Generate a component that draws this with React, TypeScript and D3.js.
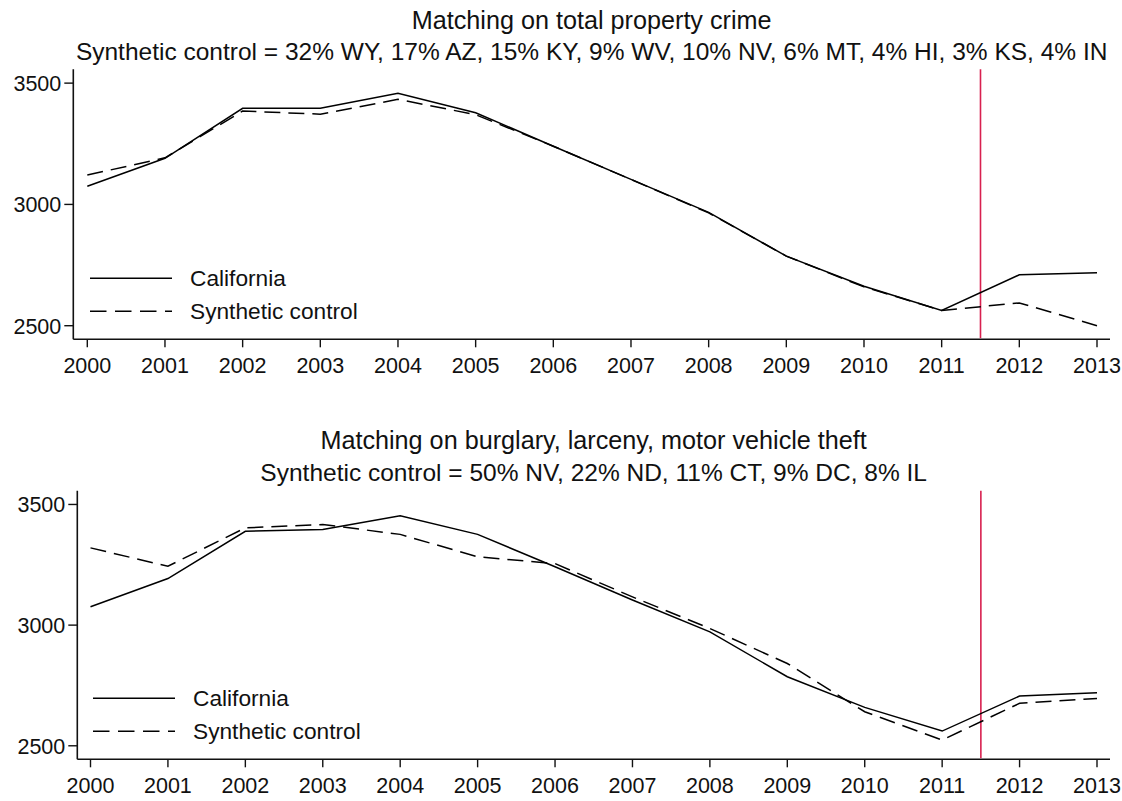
import React from "react";
import * as d3 from "d3";

// data
const years = [2000, 2001, 2002, 2003, 2004, 2005, 2006, 2007, 2008, 2009, 2010, 2011, 2012, 2013];
const yTicks = [2500, 3000, 3500];

const caTop = [3075, 3190, 3396, 3396, 3458, 3378, 3240, 3103, 2967, 2787, 2663, 2563, 2710, 2718];
const synthTop = [3121, 3192, 3385, 3372, 3433, 3370, 3240, 3103, 2965, 2787, 2660, 2563, 2594, 2500];

const caBottom = [3076, 3193, 3389, 3396, 3453, 3376, 3242, 3104, 2972, 2786, 2659, 2561, 2706, 2720];
const synthBottom = [3320, 3244, 3403, 3417, 3376, 3283, 3255, 3117, 2986, 2841, 2641, 2524, 2676, 2696];

const treatYear = 2011.5;

const FONT = "'Liberation Sans', Arial, Helvetica, sans-serif";

type PanelProps = {
  title: string;
  subtitle: string;
  ca: number[];
  synth: number[];
  top: number; // y of plot top
  bottom: number; // y of x axis
  left: number; // x of y axis
  x0: number; // pixel of first year
  x1: number; // pixel of last year
  right: number;
  titleY: number;
  subY: number;
  legendY: number;
  legendX: number;
};

function Panel(p: PanelProps) {
  const x = d3.scaleLinear().domain([2000, 2013]).range([p.x0, p.x1]);
  // 2500 sits ~13.6px above the axis line, 3500 ~14px below the top
  const y = d3
    .scaleLinear()
    .domain([2444, 3557])
    .range([p.bottom, p.top]);

  const line = d3
    .line<number>()
    .x((_, i) => x(years[i]))
    .y((d) => y(d));

  const cx = (p.left + p.right) / 2;

  return (
    <g>
      <text x={cx} y={p.titleY} textAnchor="middle" fontSize={25.2} fill="#111">
        {p.title}
      </text>
      <text x={cx} y={p.subY} textAnchor="middle" fontSize={24.5} fill="#111">
        {p.subtitle}
      </text>

      {/* axes */}
      <line x1={p.left} x2={p.left} y1={p.top} y2={p.bottom} stroke="#111" strokeWidth={1.6} />
      <line x1={p.left} x2={p.right} y1={p.bottom} y2={p.bottom} stroke="#111" strokeWidth={1.6} />

      {yTicks.map((t) => (
        <g key={t}>
          <line x1={p.left - 9} x2={p.left} y1={y(t)} y2={y(t)} stroke="#111" strokeWidth={1.4} />
          <text x={p.left - 12} y={y(t) + 8} textAnchor="end" fontSize={21.5} fill="#111">
            {t}
          </text>
        </g>
      ))}

      {years.map((yr) => (
        <g key={yr}>
          <line x1={x(yr)} x2={x(yr)} y1={p.bottom} y2={p.bottom + 8} stroke="#111" strokeWidth={1.4} />
          <text x={x(yr)} y={p.bottom + 34} textAnchor="middle" fontSize={21.5} fill="#111">
            {yr}
          </text>
        </g>
      ))}

      <line
        x1={x(treatYear)}
        x2={x(treatYear)}
        y1={p.top}
        y2={p.bottom - 1}
        stroke="#d8204f"
        strokeWidth={1.6}
      />

      <path d={line(p.ca) || ""} fill="none" stroke="#000" strokeWidth={1.5} />
      <path d={line(p.synth) || ""} fill="none" stroke="#000" strokeWidth={1.5} strokeDasharray="16,8" />

      {/* legend */}
      <line x1={p.legendX} x2={p.legendX + 82} y1={p.legendY} y2={p.legendY} stroke="#000" strokeWidth={1.5} />
      <text x={p.legendX + 100} y={p.legendY + 8} fontSize={22.7} fill="#111">
        California
      </text>
      <line
        x1={p.legendX}
        x2={p.legendX + 82}
        y1={p.legendY + 33}
        y2={p.legendY + 33}
        stroke="#000"
        strokeWidth={1.5}
        strokeDasharray="16.5,8.5"
      />
      <text x={p.legendX + 100} y={p.legendY + 41} fontSize={22.7} fill="#111">
        Synthetic control
      </text>
    </g>
  );
}

export default function App() {
  return (
    <svg
      width={1122}
      height={801}
      style={{ position: "absolute", left: 0, top: 0, background: "#fff", fontFamily: FONT }}
    >
      <Panel
        title="Matching on total property crime"
        subtitle="Synthetic control = 32% WY, 17% AZ, 15% KY, 9% WV, 10% NV, 6% MT, 4% HI, 3% KS, 4% IN"
        ca={caTop}
        synth={synthTop}
        top={69.3}
        bottom={339.3}
        left={73.3}
        x0={87.3}
        x1={1097}
        right={1110}
        titleY={28.5}
        subY={60}
        legendY={278.3}
        legendX={90}
      />
      <Panel
        title="Matching on burglary, larceny, motor vehicle theft"
        subtitle="Synthetic control = 50% NV, 22% ND, 11% CT, 9% DC, 8% IL"
        ca={caBottom}
        synth={synthBottom}
        top={490.7}
        bottom={759.3}
        left={77.3}
        x0={90.5}
        x1={1097}
        right={1110}
        titleY={448.5}
        subY={481}
        legendY={698.3}
        legendX={93}
      />
    </svg>
  );
}
